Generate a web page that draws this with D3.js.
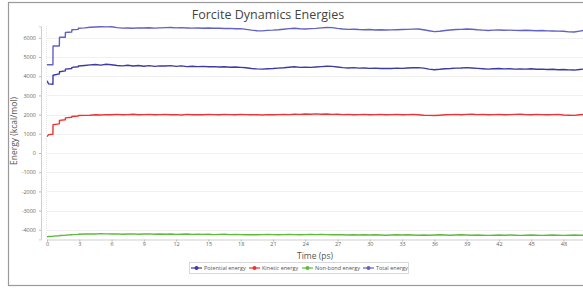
<!doctype html>
<html>
<head>
    <style>
        body { margin: 0; background: #fff; }
        text { font-family: 'Open Sans', 'DejaVu Sans', sans-serif; }
        .tick text { fill: #666; font-size: 5.5px; }
    </style>
    <script src="https://d3js.org/d3.v7.min.js"></script>
</head>
<body>
    <script>
        // time (ps) of each frame
        var time = [0, 0.15, 0.55, 0.56, 1.15, 1.16, 1.7, 1.71, 2.3, 2.31, 2.9, 2.91, 3.5,
            4, 4.5, 5, 5.5, 6, 6.5, 7, 7.5, 8, 8.5,
            9, 9.5, 10, 10.5, 11, 11.5, 12, 12.5, 13, 13.5,
            14, 14.5, 15, 15.5, 16, 16.5, 17, 17.5, 18, 18.5,
            19, 19.5, 20, 20.5, 21, 21.5, 22, 22.5, 23, 23.5,
            24, 24.5, 25, 25.5, 26, 26.5, 27, 27.5, 28, 28.5,
            29, 29.5, 30, 30.5, 31, 31.5, 32, 32.5, 33, 33.5,
            34, 34.5, 35, 35.5, 36, 36.5, 37, 37.5, 38, 38.5,
            39, 39.5, 40, 40.5, 41, 41.5, 42, 42.5, 43, 43.5,
            44, 44.5, 45, 45.5, 46, 46.5, 47, 47.5, 48, 48.5,
            49, 49.5, 50];

        var potential = [3760, 3600, 3580, 4050, 4120, 4230, 4280, 4370, 4400, 4460, 4490, 4530, 4560,
            4590, 4610, 4580, 4620, 4600, 4560, 4540, 4570, 4530, 4560,
            4520, 4550, 4510, 4540, 4530, 4550, 4510, 4540, 4500, 4520,
            4500, 4510, 4490, 4500, 4480, 4490, 4470, 4480, 4460, 4440,
            4400, 4380, 4370, 4390, 4400, 4420, 4440, 4470, 4490, 4460,
            4470, 4460, 4480, 4500, 4520, 4510, 4480, 4450, 4430, 4450,
            4420, 4430, 4410, 4420, 4400, 4410, 4400, 4420, 4410, 4430,
            4440, 4450, 4420, 4370, 4340, 4360, 4390, 4400, 4420, 4430,
            4450, 4430, 4410, 4390, 4370, 4390, 4400, 4380, 4390, 4370,
            4380, 4370, 4390, 4360, 4370, 4350, 4360, 4340, 4350, 4330,
            4320, 4350, 4380];

        var kinetic = [850, 960, 980, 1480, 1520, 1700, 1730, 1830, 1860, 1900, 1930, 1950, 1960,
            1970, 1990, 1980, 2000, 1990, 2010, 1990, 2000, 2020, 1990,
            2000, 2010, 1990, 2000, 2010, 1990, 2000, 1980, 2010, 1990,
            2000, 1990, 2010, 2000, 1990, 2010, 2000, 1990, 2010, 2000,
            1990, 2000, 1980, 2000, 1990, 2000, 2010, 2000, 2020, 2010,
            2030, 2020, 2040, 2020, 2030, 2010, 2020, 2000, 2010, 1990,
            2000, 2010, 1990, 2000, 2010, 1990, 2000, 2010, 1990, 2000,
            2010, 1990, 1970, 1960, 1950, 1970, 1990, 2000, 2010, 1990,
            2010, 2020, 2000, 2010, 1990, 2000, 2010, 1990, 2000, 2010,
            2020, 2000, 1990, 2010, 2000, 1990, 2000, 2010, 1980, 1970,
            1960, 1990, 2010];

        var nonbond = [-4360, -4350, -4340, -4330, -4310, -4300, -4290, -4280, -4260, -4250, -4240, -4235, -4220,
            -4210, -4220, -4200, -4210, -4220, -4210, -4230, -4220, -4210, -4230,
            -4220, -4210, -4230, -4220, -4230, -4220, -4240, -4230, -4220, -4240,
            -4230, -4240, -4230, -4250, -4240, -4230, -4250, -4240, -4250, -4260,
            -4250, -4260, -4250, -4240, -4250, -4260, -4250, -4240, -4250, -4260,
            -4250, -4240, -4250, -4240, -4250, -4260, -4250, -4260, -4270, -4260,
            -4270, -4260, -4270, -4260, -4270, -4280, -4270, -4260, -4270, -4260,
            -4270, -4280, -4270, -4280, -4270, -4260, -4270, -4280, -4270, -4260,
            -4270, -4280, -4270, -4280, -4290, -4280, -4270, -4280, -4270, -4280,
            -4290, -4280, -4270, -4280, -4290, -4280, -4270, -4280, -4290, -4280,
            -4270, -4280, -4280];

        var total = [4600, 4600, 4600, 5570, 5570, 6030, 6030, 6280, 6300, 6420, 6440, 6500, 6520,
            6550, 6565, 6575, 6570, 6575, 6530, 6505, 6515, 6500, 6520,
            6510, 6525, 6505, 6520, 6530, 6535, 6520, 6530, 6515, 6505,
            6515, 6500, 6510, 6495, 6500, 6485, 6490, 6470, 6480, 6440,
            6400, 6370, 6360, 6390, 6400, 6420, 6450, 6480, 6500, 6470,
            6460, 6480, 6490, 6520, 6540, 6530, 6490, 6460, 6440, 6450,
            6430, 6420, 6435, 6410, 6420, 6405, 6415, 6420, 6430, 6440,
            6455, 6460, 6420, 6370, 6320, 6340, 6380, 6410, 6430, 6440,
            6460, 6450, 6420, 6400, 6380, 6400, 6410, 6395, 6400, 6390,
            6380, 6395, 6385, 6370, 6380, 6360, 6355, 6350, 6340, 6310,
            6300, 6350, 6400];

        var series = [
            { name: "Potential energy", values: potential, color: "#3b3ba3" },
            { name: "Kinetic energy", values: kinetic, color: "#ec3434" },
            { name: "Non-bond energy", values: nonbond, color: "#5dbb3c" },
            { name: "Total energy", values: total, color: "#6262c4" }
        ];

        var xTicks = [0, 3, 6, 9, 12, 15, 18, 21, 24, 27, 30, 33, 36, 39, 42, 45, 48];
        var yTicks = [-4000, -3000, -2000, -1000, 0, 1000, 2000, 3000, 4000, 5000, 6000];

        var W = 583, H = 292;
        var svg = d3.select("body").append("svg").attr("width", W).attr("height", H);

        // outer frame
        svg.append("rect").attr("x", 8.5).attr("y", 2.5).attr("width", 600).attr("height", 283)
            .attr("fill", "#fff").attr("stroke", "#9a9a9a").attr("stroke-width", 1.2);

        var x = d3.scaleLinear().domain([0, 50]).range([47, 585]);
        var y = d3.scaleLinear().domain([-4500, 6600]).range([239.4, 26.3]);

        // grid
        svg.append("g").selectAll("line").data(yTicks).join("line")
            .attr("x1", 47).attr("x2", 600)
            .attr("y1", d => Math.round(y(d)) + 0.5).attr("y2", d => Math.round(y(d)) + 0.5)
            .attr("stroke", "#ececec").attr("stroke-width", 0.8);
        svg.append("line").attr("x1", 46.5).attr("x2", 46.5).attr("y1", 26).attr("y2", 240)
            .attr("stroke", "#e4e4e4").attr("stroke-dasharray", "1,1");

        var fmt = d => String(d);
        svg.append("g").attr("transform", "translate(41,0)")
            .call(d3.axisLeft(y).tickValues(yTicks).tickFormat(fmt).tickSize(2).tickPadding(3));
        svg.append("g").attr("transform", "translate(0,239.5)")
            .call(d3.axisBottom(x).tickValues(xTicks).tickFormat(fmt).tickSize(2).tickPadding(1));
        svg.selectAll(".domain").attr("stroke", "#cfcfcf");
        svg.selectAll(".tick line").attr("stroke", "#bbb");

        svg.append("clipPath").attr("id", "plot")
            .append("rect").attr("x", 47).attr("y", 24).attr("width", 560).attr("height", 216);

        var line = d3.line().x((d, i) => x(time[i])).y(d => y(d));

        svg.append("g").attr("clip-path", "url(#plot)")
            .selectAll("path").data(series).join("path")
            .attr("d", d => line(d.values))
            .attr("fill", "none")
            .attr("stroke", d => d.color)
            .attr("stroke-width", 1.4)
            .attr("stroke-linejoin", "round");

        // titles
        svg.append("text").attr("x", 268).attr("y", 19).attr("text-anchor", "middle")
            .attr("font-size", 12.5).attr("fill", "#444").text("Forcite Dynamics Energies");
        svg.append("text").attr("x", 315).attr("y", 259).attr("text-anchor", "middle")
            .attr("font-size", 8.5).attr("fill", "#555").text("Time (ps)");
        svg.append("text").attr("transform", "translate(17,131) rotate(-90)").attr("text-anchor", "middle")
            .attr("font-size", 8.5).attr("fill", "#555").text("Energy (kcal/mol)");

        // legend
        svg.append("rect").attr("x", 189.5).attr("y", 262.5).attr("width", 219).attr("height", 11)
            .attr("fill", "#fff").attr("stroke", "#d0d0d0").attr("stroke-width", 0.8);
        var legX = [190, 248, 301, 362];
        var leg = svg.append("g").selectAll("g").data(series).join("g")
            .attr("transform", (d, i) => "translate(" + legX[i] + ",268)");
        leg.append("line").attr("x1", 1).attr("x2", 12).attr("stroke", d => d.color).attr("stroke-width", 1.2);
        leg.append("circle").attr("cx", 6.5).attr("r", 2).attr("fill", d => d.color);
        leg.append("text").attr("x", 14).attr("y", 2).attr("font-size", 5.5).attr("fill", "#555")
            .text(d => d.name);
    </script>
</body>
</html>
